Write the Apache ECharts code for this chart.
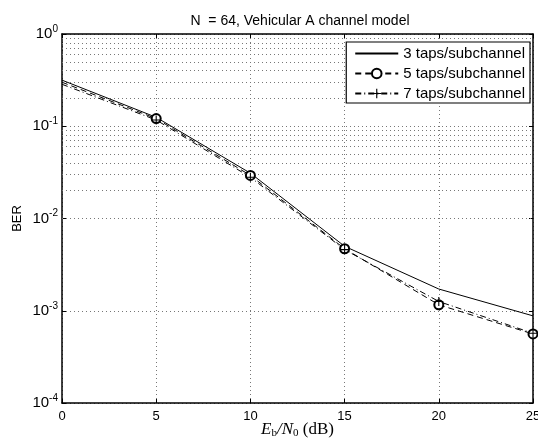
<!DOCTYPE html>
<html>
<head>
<meta charset="utf-8">
<script src="https://cdn.jsdelivr.net/npm/echarts@6/dist/echarts.min.js"></script>
<style>
  html, body { margin: 0; padding: 0; background: #fff; }
  #chart { width: 538px; height: 441px; }
</style>
</head>
<body>
<div id="chart"></div>
<script>
// Eb/N0 in dB
const snrDb = [0, 5, 10, 15, 20, 25]
// BER
const ber3Taps = [0.316, 0.125, 0.031, 0.0050, 0.00172, 0.00088]
const ber5Taps = [0.300, 0.121, 0.0293, 0.0047, 0.00116, 0.00056]
const ber7Taps = [0.285, 0.117, 0.028, 0.0046, 0.00126, 0.00057]
const seriesNames = ['3 taps/subchannel', '5 taps/subchannel', '7 taps/subchannel']
const decades = [1e-4, 1e-3, 1e-2, 1e-1, 1]

const font = 'Liberation Sans, Arial, Helvetica, sans-serif'
const serif = 'Liberation Serif, DejaVu Serif, serif'
const dotted = { color: '#777', width: 1, type: [1, 3] }
const boxLine = { color: '#000', width: 1.5 }

// minor log gridlines at 2..9 of each decade
const minorGrid = []
decades.slice(0, -1).forEach(d => {
  for (let k = 2; k <= 9; k++) minorGrid.push({ yAxis: d * k })
})

// markers drawn only from 5 dB on (not at the axis)
const toData = (vals) => vals.map((v, i) => i === 0 ? { value: [snrDb[i], v], symbol: 'none' } : [snrDb[i], v])

const plusPath = 'path://M4.4,0h1.2v10h-1.2z M0,4.4h10v1.2h-10z'

const chart = echarts.init(document.getElementById('chart'))

chart.setOption({
  animation: false,
  title: {
    text: 'N  = 64, Vehicular A channel model',
    left: 295,
    textAlign: 'center',
    top: 9,
    textStyle: { fontFamily: font, fontSize: 14, fontWeight: 'normal', color: '#000' }
  },
  grid: { left: 62, right: 5, top: 34, bottom: 38, outerBoundsMode: 'none' },
  legend: {
    data: [
      { name: seriesNames[0], itemStyle: { opacity: 0 } },
      seriesNames[1],
      seriesNames[2]
    ],
    orient: 'vertical',
    right: 8,
    top: 42,
    backgroundColor: '#fff',
    borderColor: '#000',
    borderWidth: 1.2,
    borderRadius: 0,
    padding: [4, 5, 2, 8],
    itemGap: 5,
    itemWidth: 43,
    itemHeight: 12,
    textStyle: { fontFamily: font, fontSize: 15, color: '#000' }
  },
  xAxis: [
    {
      type: 'value', min: 0, max: 25, interval: 5,
      axisLine: { onZero: false, lineStyle: boxLine },
      axisTick: { inside: true, length: 4, lineStyle: { color: '#000' } },
      axisLabel: { fontFamily: font, fontSize: 13, color: '#000', margin: 7 },
      splitLine: { show: true, lineStyle: dotted },
      name: '{i|E}{sub|b}{i|/N}{sub|0}{n| (dB)}',
      nameLocation: 'middle',
      nameGap: 18,
      nameMoveOverlap: false,
      nameTextStyle: {
        verticalAlign: 'top',
        rich: {
          i: { fontFamily: serif, fontStyle: 'italic', fontSize: 17, lineHeight: 18, verticalAlign: 'top', color: '#000' },
          sub: { fontFamily: serif, fontSize: 11, lineHeight: 12, verticalAlign: 'bottom', padding: [7, 0, 0, 0], color: '#000' },
          n: { fontFamily: serif, fontSize: 17, lineHeight: 18, verticalAlign: 'top', color: '#000' }
        }
      }
    },
    {
      type: 'value', min: 0, max: 25, interval: 5, position: 'top',
      axisLine: { onZero: false, lineStyle: boxLine },
      axisTick: { inside: true, length: 4, lineStyle: { color: '#000' } },
      axisLabel: { show: false },
      splitLine: { show: false }
    }
  ],
  yAxis: [
    {
      type: 'log', logBase: 10, min: 1e-4, max: 1,
      axisLine: { onZero: false, lineStyle: boxLine },
      axisTick: { inside: true, length: 4, lineStyle: { color: '#000' } },
      axisLabel: {
        margin: 4,
        formatter: v => '{b|10}{s|' + Math.round(Math.log10(v)) + '}',
        rich: {
          b: { fontSize: 15, fontFamily: font, color: '#000' },
          s: { fontSize: 10, fontFamily: font, color: '#000', verticalAlign: 'top', padding: [0, 0, 10, 0] }
        }
      },
      splitLine: { show: true, lineStyle: dotted },
      name: 'BER',
      nameLocation: 'middle',
      nameGap: 38,
      nameMoveOverlap: false,
      nameTextStyle: { fontFamily: font, fontSize: 13, color: '#000' }
    },
    {
      type: 'log', logBase: 10, min: 1e-4, max: 1, position: 'right',
      axisLine: { onZero: false, lineStyle: boxLine },
      axisTick: { inside: true, length: 4, lineStyle: { color: '#000' } },
      axisLabel: { show: false },
      splitLine: { show: false }
    }
  ],
  series: [
    {
      name: seriesNames[0],
      type: 'line',
      data: toData(ber3Taps),
      symbol: 'none',
      lineStyle: { color: '#000', width: 1 },
      itemStyle: { color: '#000' },
      z: 5,
      markLine: {
        silent: true,
        symbol: 'none',
        label: { show: false },
        lineStyle: dotted,
        data: minorGrid,
        z: 1
      }
    },
    {
      name: seriesNames[1],
      type: 'line',
      data: toData(ber5Taps),
      symbol: 'emptyCircle',
      symbolSize: 9,
      lineStyle: { color: '#000', width: 1, type: [6, 4] },
      itemStyle: { color: '#000', borderColor: '#000', borderWidth: 1 },
      z: 5
    },
    {
      name: seriesNames[2],
      type: 'line',
      data: toData(ber7Taps),
      symbol: plusPath,
      symbolSize: 9,
      lineStyle: { color: '#000', width: 1, type: [6, 3, 1, 3] },
      itemStyle: { color: '#000' },
      z: 5
    }
  ]
})
</script>
</body>
</html>
